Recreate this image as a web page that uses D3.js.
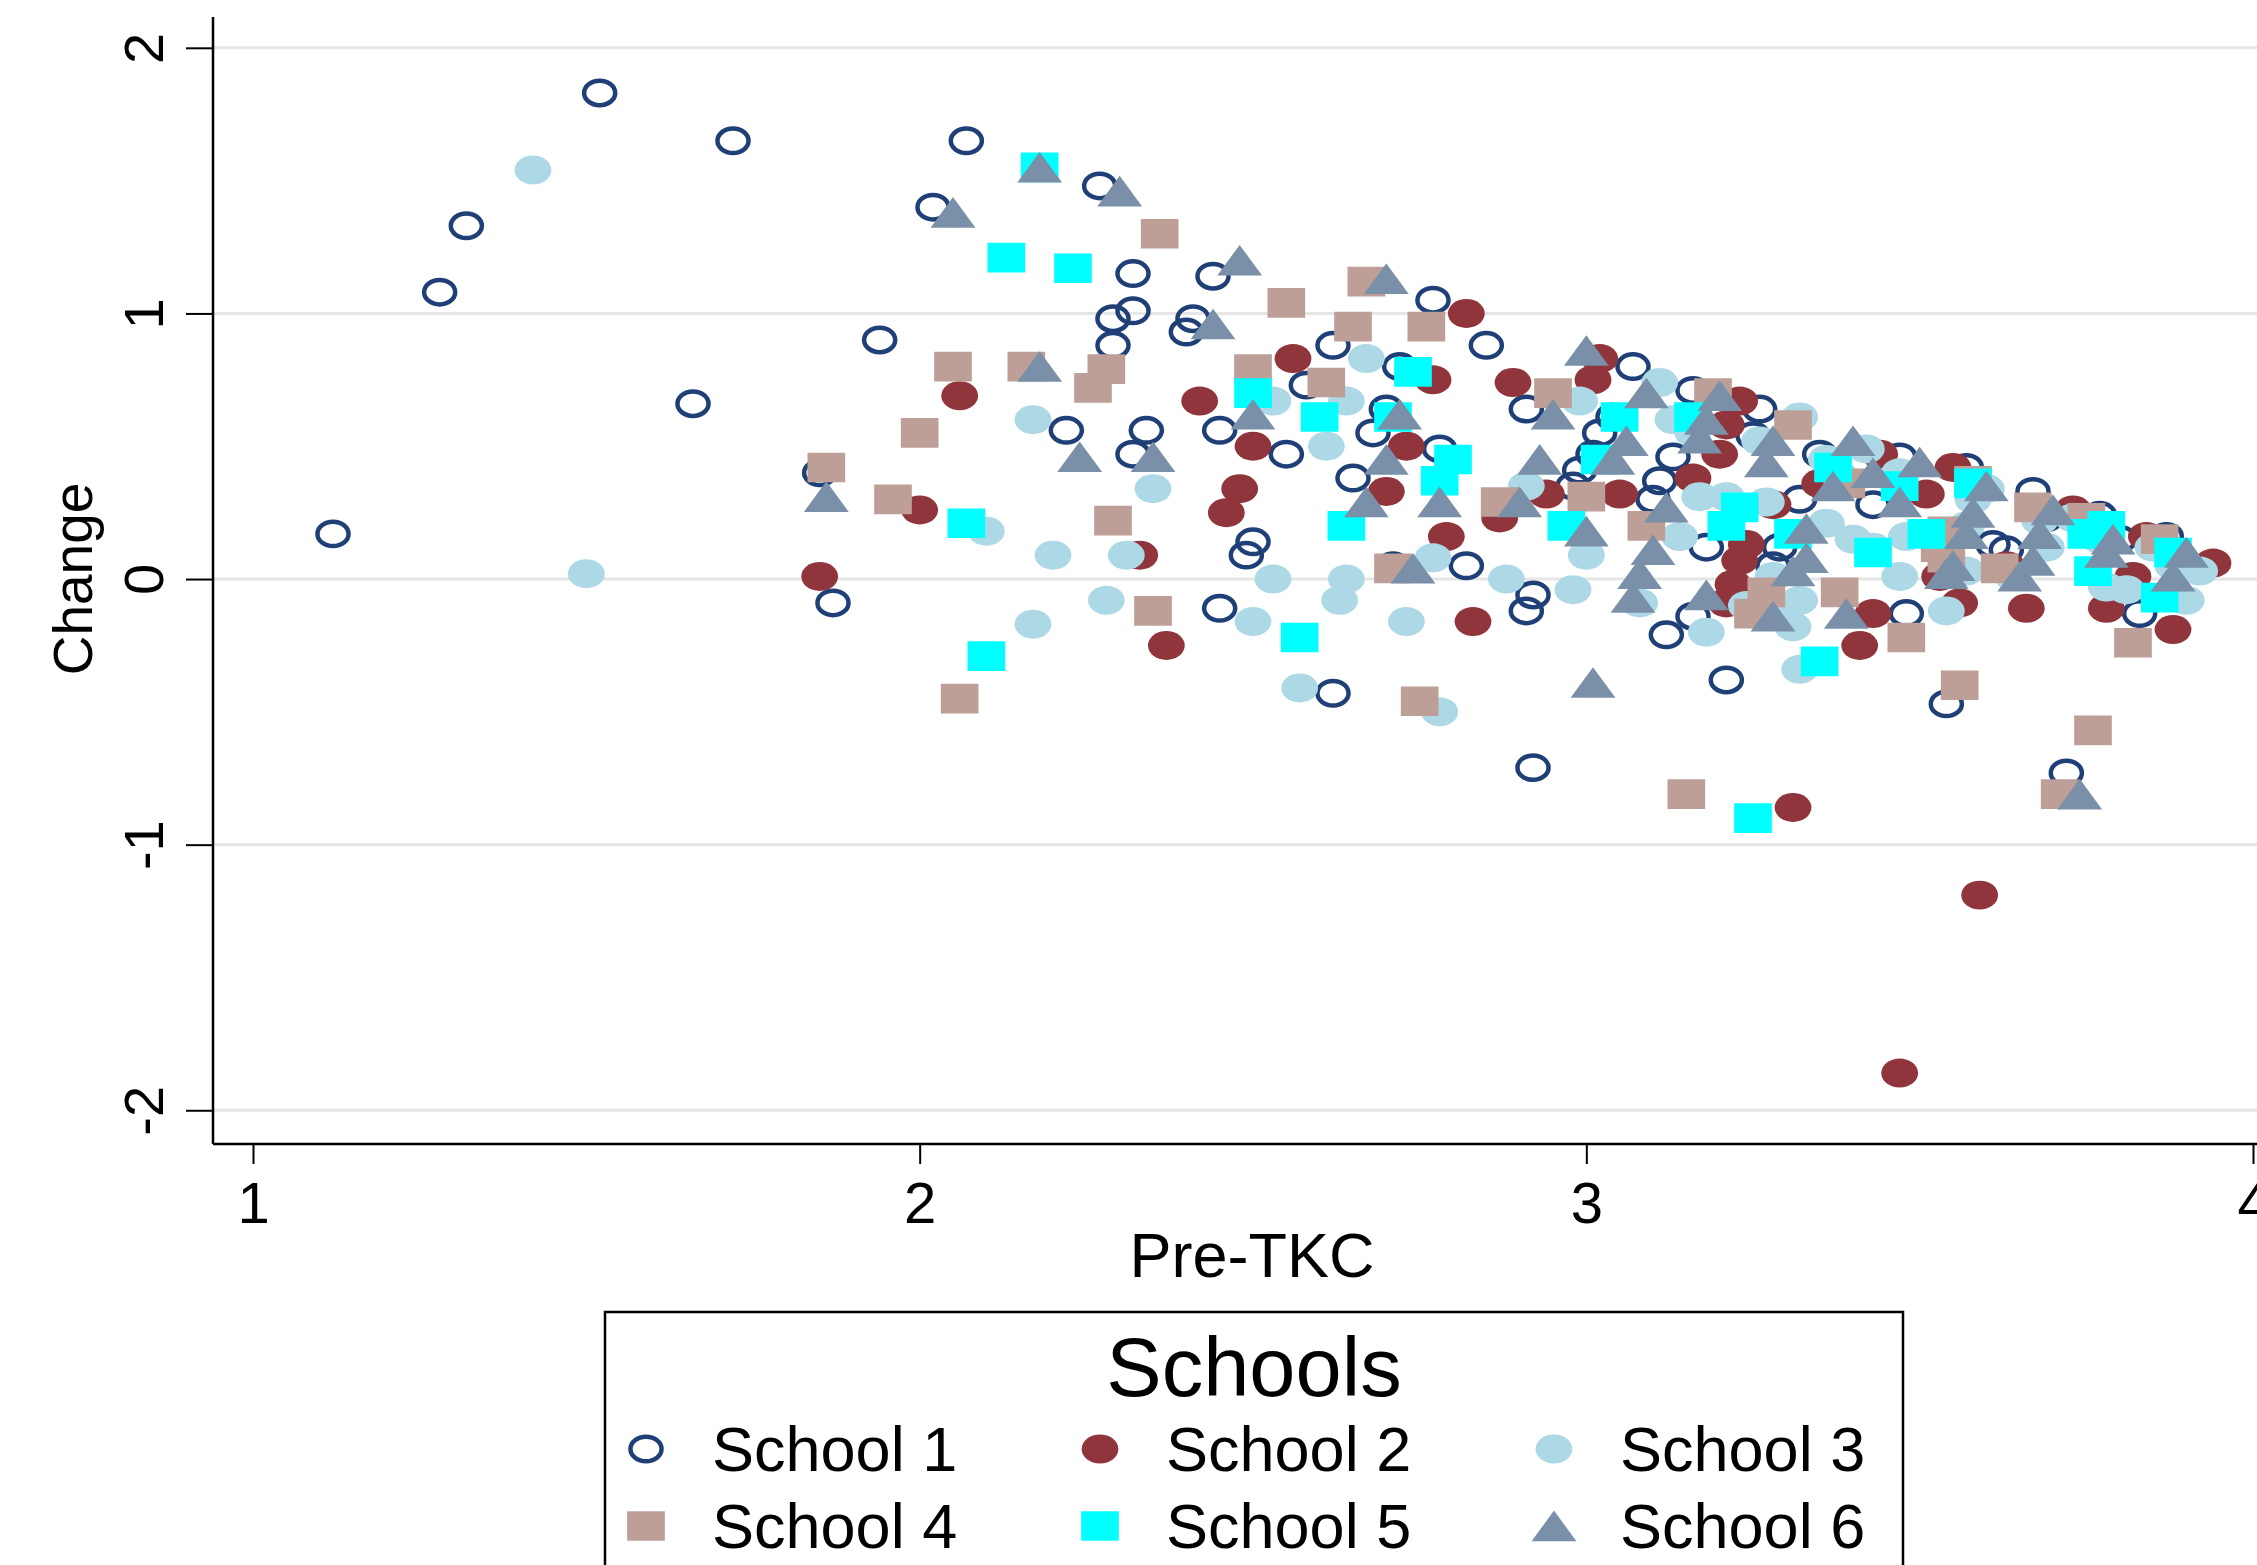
<!DOCTYPE html>
<html>
<head>
<meta charset="utf-8">
<script src="https://cdn.jsdelivr.net/npm/d3@7"></script>
<style>
  html, body { margin: 0; padding: 0; background: #fff; overflow: hidden; }
  text { font-family: "Liberation Sans", Arial, sans-serif; fill: #000; }
</style>
</head>
<body>
<div id="chart"></div>
<script>
// Pre-TKC score vs. change, one [pre, change] pair per teacher
const school1 = [
  [1.12,0.17],[1.28,1.08],[1.32,1.33],[1.52,1.83],[1.66,0.66],[1.72,1.65],[1.85,0.40],[1.87,-0.09],[1.94,0.90],
  [2.02,1.40],[2.07,1.65],[2.22,0.56],[2.27,1.48],[2.29,0.98],[2.29,0.88],[2.32,1.01],[2.32,1.15],[2.32,0.47],[2.34,0.56],
  [2.40,0.93],[2.41,0.98],[2.44,1.14],[2.45,0.56],[2.45,-0.11],[2.49,0.09],[2.50,0.14],[2.55,0.47],[2.58,0.73],[2.62,0.88],[2.62,-0.43],
  [2.65,0.38],[2.68,0.55],[2.70,0.64],[2.71,0.05],[2.72,0.80],[2.77,1.05],[2.78,0.49],[2.82,0.05],[2.85,0.88],[2.91,0.64],[2.91,-0.12],[2.92,-0.06],[2.92,-0.71],
  [2.98,0.35],[2.99,0.41],[3.01,0.47],[3.02,0.55],[3.04,0.61],[3.07,0.80],[3.10,0.30],[3.11,0.37],[3.12,-0.21],[3.13,0.46],[3.16,0.71],[3.16,-0.14],[3.18,0.12],
  [3.21,-0.38],[3.25,0.54],[3.26,0.64],[3.28,0.05],[3.29,0.12],[3.32,0.30],[3.35,0.47],[3.43,0.28],[3.47,0.46],[3.48,-0.13],[3.54,-0.47],[3.57,0.42],
  [3.61,0.13],[3.63,0.11],[3.67,0.33],[3.69,0.23],[3.72,-0.73],[3.77,0.24],[3.80,0.15],[3.83,-0.13],[3.87,0.16]
];
const school2 = [
  [1.85,0.01],[2.00,0.26],[2.06,0.69],[2.33,0.09],[2.37,-0.25],[2.42,0.67],[2.46,0.25],[2.48,0.34],[2.50,0.50],[2.56,0.83],
  [2.70,0.33],[2.73,0.50],[2.77,0.75],[2.79,0.16],[2.82,1.00],[2.83,-0.16],[2.87,0.23],[2.89,0.74],[2.94,0.32],
  [3.01,0.75],[3.02,0.83],[3.05,0.32],[3.16,0.38],[3.20,0.47],[3.21,0.58],[3.21,-0.09],[3.22,-0.02],[3.23,0.67],[3.23,0.07],[3.24,0.13],
  [3.28,0.28],[3.31,-0.86],[3.35,0.36],[3.41,-0.25],[3.43,-0.13],[3.44,0.47],[3.47,-1.86],[3.51,0.32],[3.53,0.01],[3.55,0.42],[3.56,-0.09],
  [3.59,-1.19],[3.63,0.05],[3.66,-0.11],[3.73,0.26],[3.78,-0.11],[3.82,0.01],[3.84,0.16],[3.88,-0.19],[3.90,0.04],[3.94,0.06]
];
const school3 = [
  [1.42,1.54],[1.50,0.02],[2.10,0.18],[2.17,0.60],[2.17,-0.17],[2.20,0.09],[2.28,-0.08],[2.31,0.09],[2.35,0.34],[2.50,-0.16],[2.53,0.00],
  [2.53,0.67],[2.57,-0.41],[2.61,0.50],[2.63,-0.08],[2.64,0.00],[2.64,0.67],[2.67,0.83],[2.73,-0.16],[2.77,0.08],[2.78,-0.50],
  [2.88,0.00],[2.91,0.35],[2.98,-0.04],[2.99,0.67],[3.00,0.09],[3.08,-0.09],[3.11,0.74],[3.13,0.60],[3.14,0.16],[3.16,0.55],[3.17,0.31],
  [3.18,-0.20],[3.21,0.31],[3.24,-0.10],[3.26,0.52],[3.27,0.29],[3.28,0.01],[3.30,-0.15],[3.31,-0.18],[3.32,0.61],[3.32,-0.34],[3.32,-0.08],
  [3.36,0.21],[3.36,0.45],[3.38,0.39],[3.40,0.15],[3.42,0.49],[3.43,0.12],[3.47,0.01],[3.47,0.40],[3.48,0.16],[3.54,-0.12],[3.57,0.20],
  [3.57,0.03],[3.58,0.30],[3.60,0.34],[3.64,0.01],[3.68,0.22],[3.69,0.12],[3.73,0.23],[3.77,0.15],[3.78,-0.03],[3.78,0.20],[3.81,-0.04],
  [3.85,0.12],[3.88,0.05],[3.90,-0.08],[3.92,0.03]
];
const school4 = [
  [1.86,0.42],[1.96,0.30],[2.00,0.55],[2.05,0.80],[2.06,-0.45],[2.16,0.80],[2.26,0.72],[2.28,0.79],[2.29,0.22],[2.35,-0.12],[2.36,1.30],
  [2.50,0.79],[2.55,1.04],[2.61,0.74],[2.65,0.95],[2.67,1.12],[2.71,0.04],[2.75,-0.46],[2.76,0.95],[2.87,0.29],[2.95,0.70],
  [3.00,0.31],[3.09,0.20],[3.15,-0.81],[3.19,0.70],[3.25,-0.13],[3.27,-0.05],[3.31,0.58],[3.38,-0.05],[3.39,0.36],[3.48,-0.22],
  [3.53,0.12],[3.54,0.18],[3.54,0.08],[3.56,-0.40],[3.58,0.37],[3.62,0.04],[3.67,0.27],[3.71,-0.81],[3.75,0.23],[3.76,-0.57],[3.82,-0.24],[3.86,0.15]
];
const school5 = [
  [2.07,0.21],[2.10,-0.29],[2.13,1.21],[2.18,1.55],[2.23,1.17],[2.50,0.70],[2.57,-0.22],[2.60,0.61],[2.64,0.20],[2.71,0.61],[2.74,0.78],
  [2.78,0.37],[2.80,0.45],[2.97,0.20],[3.02,0.45],[3.05,0.61],[3.16,0.61],[3.21,0.20],[3.23,0.27],[3.25,-0.90],[3.31,0.17],[3.35,-0.31],
  [3.37,0.42],[3.43,0.10],[3.47,0.35],[3.51,0.17],[3.58,0.36],[3.75,0.17],[3.76,0.03],[3.78,0.20],[3.86,-0.07],[3.88,0.10]
];
const school6 = [
  [1.86,0.31],[2.05,1.38],[2.18,1.55],[2.18,0.80],[2.24,0.46],[2.30,1.46],[2.35,0.46],[2.44,0.96],[2.48,1.20],[2.50,0.62],[2.67,0.29],
  [2.70,1.13],[2.70,0.45],[2.72,0.62],[2.74,0.04],[2.78,0.29],[2.90,0.29],[2.93,0.45],[2.95,0.62],
  [3.00,0.86],[3.00,0.18],[3.01,-0.39],[3.04,0.45],[3.06,0.52],[3.07,-0.07],[3.08,0.02],[3.09,0.70],[3.10,0.11],[3.12,0.27],
  [3.17,0.53],[3.18,0.60],[3.18,-0.06],[3.20,0.69],[3.27,0.44],[3.28,0.52],[3.28,-0.14],[3.31,0.03],[3.33,0.08],[3.33,0.19],
  [3.37,0.35],[3.39,-0.13],[3.40,0.52],[3.43,0.40],[3.47,0.29],[3.50,0.44],[3.54,0.02],[3.55,0.05],[3.57,0.17],[3.58,0.25],
  [3.60,0.35],[3.65,0.01],[3.67,0.07],[3.68,0.17],[3.70,0.26],[3.74,-0.81],[3.78,0.10],[3.79,0.15],[3.88,0.01],[3.90,0.10]
];

const schoolNames = ['School 1', 'School 2', 'School 3', 'School 4', 'School 5', 'School 6'];
const xTicks = [1, 2, 3, 4];
const yTicks = [-2, -1, 0, 1, 2];

const width = 2257, height = 1565;
const series = [
  {name: schoolNames[0], data: school1, shape: d3.symbolCircle, color: '#1f3f77', hollow: true},
  {name: schoolNames[1], data: school2, shape: d3.symbolCircle, color: '#90353b'},
  {name: schoolNames[2], data: school3, shape: d3.symbolCircle, color: '#add8e6'},
  {name: schoolNames[3], data: school4, shape: d3.symbolSquare, color: '#bd9f98'},
  {name: schoolNames[4], data: school5, shape: d3.symbolSquare, color: '#00ffff'},
  {name: schoolNames[5], data: school6, shape: d3.symbolTriangle, color: '#7a90a8'}
];

const svg = d3.select('#chart')
              .append('svg')
              .attr('width', width)
              .attr('height', height);

const xScale = d3.scaleLinear().domain([0.94, 4.06]).range([213, 2293]);
const yScale = d3.scaleLinear().domain([-2.127, 2.116]).range([1144, 17]);

// horizontal grid
svg.append('g')
   .selectAll('line')
   .data(yTicks)
   .enter()
   .append('line')
   .attr('x1', 213)
   .attr('x2', width)
   .attr('y1', d => yScale(d))
   .attr('y2', d => yScale(d))
   .attr('stroke', '#e6e6e6')
   .attr('stroke-width', 3);

const symbolSize = s => s === d3.symbolCircle ? 660 : s === d3.symbolSquare ? 880 : 540;

// marker: stretched a bit wider than tall, as in the original
const drawMarker = (sel, s, cx, cy) => {
  const sym = d3.symbol().type(s.shape).size(s.hollow ? 470 : symbolSize(s.shape));
  sel.append('path')
     .attr('d', sym())
     .attr('transform', `translate(${cx},${cy}) scale(1.27,1)` + (s.shape === d3.symbolTriangle ? ' translate(0,5)' : ''))
     .attr('fill', s.hollow ? 'none' : s.color)
     .attr('stroke', s.hollow ? s.color : 'none')
     .attr('stroke-width', s.hollow ? 4.5 : 0)
     .attr('vector-effect', 'non-scaling-stroke');
};

const plot = svg.append('g');
series.forEach(s => {
  const g = plot.append('g').attr('class', 'series');
  s.data.forEach(d => drawMarker(g, s, xScale(d[0]), yScale(d[1])));
});

// axes
const xAxis = d3.axisBottom(xScale).tickValues(xTicks).tickSize(20).tickSizeOuter(0)
                .tickFormat(d3.format('d'));
const yAxis = d3.axisLeft(yScale).tickValues(yTicks).tickSize(27).tickSizeOuter(0)
                .tickFormat(d => d < 0 ? '-' + Math.abs(d) : d);

const gx = svg.append('g')
   .attr('transform', 'translate(0, 1144)')
   .call(xAxis);
gx.select('.domain').attr('d', `M213,0H${width}`).attr('stroke-width', 2.5);
gx.selectAll('.tick line').attr('stroke-width', 2);
gx.selectAll('.tick text')
  .attr('y', 79).attr('dy', 0)
  .style('font-size', '58px');

const gy = svg.append('g')
   .attr('transform', 'translate(213, 0)')
   .call(yAxis);
gy.select('.domain').attr('d', 'M0,17V1144').attr('stroke-width', 2.5);
gy.selectAll('.tick line').attr('stroke-width', 2);
gy.selectAll('.tick text')
  .attr('x', 0).attr('dy', 0)
  .attr('text-anchor', 'middle')
  .attr('transform', 'translate(-50,0) rotate(-90)')
  .style('font-size', '56px');

svg.selectAll('.tick text').style('font-family', '"Liberation Sans", Arial, sans-serif').attr('fill', '#000');

svg.append('text')
   .attr('x', 1252)
   .attr('y', 1277)
   .attr('text-anchor', 'middle')
   .style('font-size', '63px')
   .text('Pre-TKC');

svg.append('text')
   .attr('transform', 'translate(92, 579) rotate(-90)')
   .attr('text-anchor', 'middle')
   .style('font-size', '55px')
   .text('Change');

// legend
const legend = svg.append('g');
legend.append('rect')
   .attr('x', 605).attr('y', 1312)
   .attr('width', 1298).attr('height', 320)
   .attr('fill', '#fff')
   .attr('stroke', '#000')
   .attr('stroke-width', 2.5);

legend.append('text')
   .attr('x', 1254).attr('y', 1396)
   .attr('text-anchor', 'middle')
   .style('font-size', '83px')
   .text('Schools');

const colX = [646, 1100, 1554];
const rowY = [1449, 1526];
series.forEach((s, i) => {
  const cx = colX[i % 3], cy = rowY[Math.floor(i / 3)];
  drawMarker(legend, s, cx, cy);
  legend.append('text')
     .attr('x', cx + 66).attr('y', cy + 22)
     .style('font-size', '63px')
     .text(s.name);
});
</script>
</body>
</html>
